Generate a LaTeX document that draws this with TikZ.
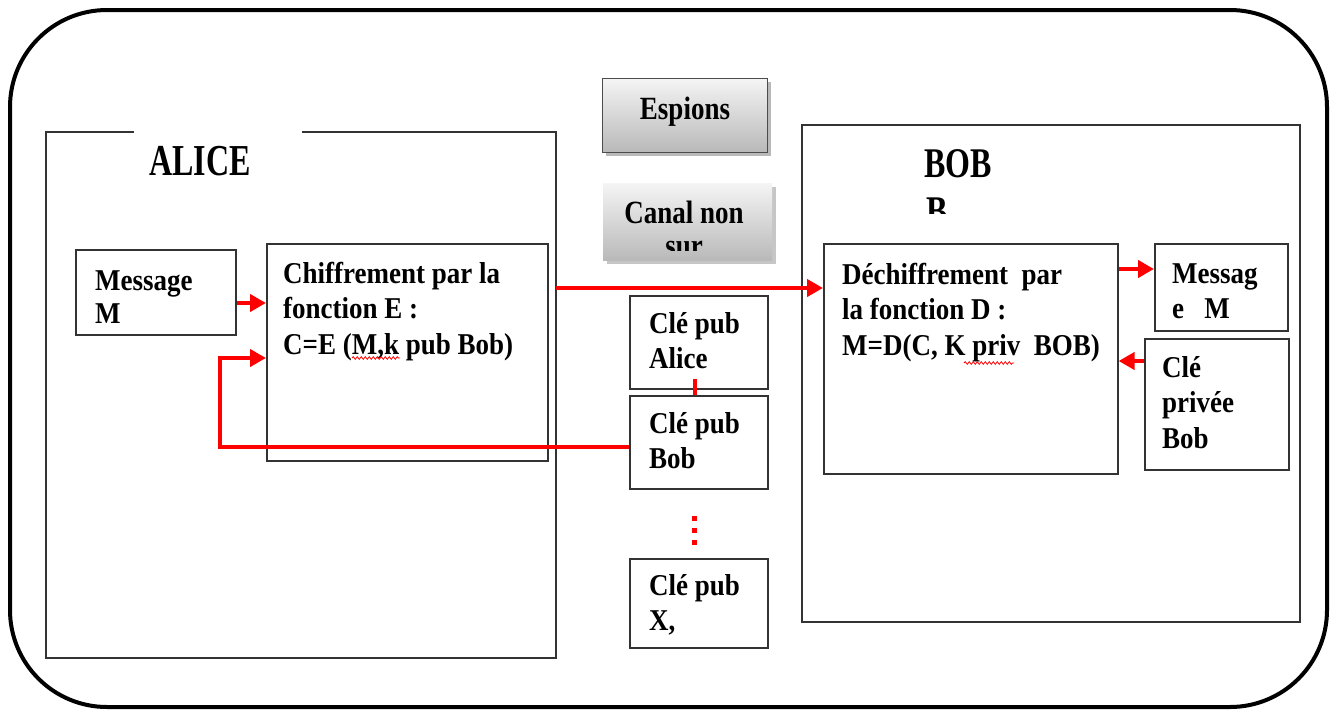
\documentclass[tikz,border=0pt]{standalone}
\usepackage{fontspec}
\setmainfont{Liberation Serif}
\usepackage{graphicx}
\usetikzlibrary{arrows.meta,decorations.pathmorphing}
\newcommand{\tb}[2][1.12]{\scalebox{1}[#1]{\begin{tabular}[t]{@{}l@{}}#2\end{tabular}}}
\definecolor{boxline}{HTML}{333333}
\begin{document}
\begin{tikzpicture}[x=1pt,y=-1pt,
  box/.style={draw=boxline, line width=1.6pt, inner sep=0pt, anchor=north west},
  txt/.style={inner sep=0pt, anchor=base west, font=\fontsize{27}{32}\selectfont\bfseries},
  ctxt/.style={inner sep=0pt, anchor=base, font=\fontsize{27}{32}\selectfont\bfseries},
  big/.style={inner sep=0pt, anchor=base west, font=\fontsize{32}{38}\selectfont\bfseries},
  redarr/.style={red, line width=4pt, -{Triangle[length=16pt,width=17pt]}},
  redline/.style={red, line width=4pt},
  squig/.style={red, line width=0.8pt, decorate, decoration={snake, amplitude=1.3pt, segment length=4pt}},
  gbox/.style={top color=gray!8, bottom color=gray!55}
]
\useasboundingbox (0,0) rectangle (1334,713);

% outer frame
\draw[line width=4pt, rounded corners=97pt] (10,10) rectangle (1327,707);

% ALICE frame with gap in top border
\draw[boxline, line width=1.6pt] (134,132) -| (46,658) -| (556,132) -- (302,132);
\node[big] (alicet) at (149,175) {\scalebox{1}[1.38]{ALICE}};
\coordinate (aliceR) at (556,288);

% Alice's boxes
\node[box, minimum width=160pt, minimum height=85pt] (msgA) at (75,249) {};
\node[txt, font=\fontsize{27}{29.5}\selectfont\bfseries] (msgAt) at (95,290) {\tb{Message\\M}};
\node[box, minimum width=281pt, minimum height=217pt] (chif) at (266,243) {};
\node[txt] (chift) at (283,283) {\tb{Chiffrement par la\\fonction E :\\C=E (M,k pub Bob)}};
\draw[squig] (352,358) -- (400,358);

% Espions and canal
\fill[gray!55] (606,82) rectangle (771,156);
\shade[gbox] (602,78) rectangle (767,152);
\node[box, draw=gray!60!black, line width=1.3pt, minimum width=165pt, minimum height=74pt] (esp) at (602,78) {};
\node[ctxt] (espt) at (685,119) {\scalebox{1}[1.2]{Espions}};

\fill[gray!45] (607,187) rectangle (776,264);
\shade[gbox] (603,183) rectangle (772,260);
\node[inner sep=0pt, anchor=north west, minimum width=169pt, minimum height=77pt] (canal) at (603,183) {};
\begin{scope}
  \clip (603,183) rectangle (772,250);
  \node[ctxt, font=\fontsize{27}{27.5}\selectfont\bfseries] (canalt) at (684,223)
    {\scalebox{1}[1.2]{\begin{tabular}[t]{@{}c@{}}Canal non\\sur\end{tabular}}};
\end{scope}

% public keys
\node[box, minimum width=138pt, minimum height=93pt] (kalice) at (629,295) {};
\node[txt] (kalicet) at (649,333) {\tb{Clé pub\\Alice}};
\node[box, minimum width=138pt, minimum height=93pt] (kbob) at (629,395) {};
\node[txt] (kbobt) at (649,433) {\tb{Clé pub\\Bob}};
\node[box, minimum width=138pt, minimum height=89pt] (kx) at (629,558) {};
\node[txt] (kxt) at (649,595) {\tb{Clé pub\\X,}};
\draw[redline] ([xshift=-4pt,yshift=11pt]kalice.south) -- ([xshift=-4pt]kbob.north);
\foreach \yy in {518,530,542} \fill[red] (692,\yy-2.5) rectangle (697,\yy+2.5);

% BOB frame
\node[box, minimum width=498pt, minimum height=497pt] (bob) at (801,124) {};
\node[big] (bobt) at (924,177) {\scalebox{1}[1.32]{BOB}};
\begin{scope}
  \clip (900,190) rectangle (1000,213);
  \node[big] (bobt2) at (926,225) {\scalebox{1}[1.32]{B}};
\end{scope}

\node[box, minimum width=294pt, minimum height=230pt] (dech) at (823,243) {};
\node[txt] (decht) at (842,284) {\tb{Déchiffrement\ \ par\\la fonction D :\\M=D(C, K priv\ \ BOB)}};
\draw[squig] (964,363) -- (1014,363);
\node[box, minimum width=133pt, minimum height=87pt] (msgB) at (1154,243) {};
\node[txt] (msgBt) at (1172,283) {\tb{Messag\\e\ \ \ M}};
\node[box, minimum width=144pt, minimum height=131pt] (kpriv) at (1144,338) {};
\node[txt] (kprivt) at (1162,377) {\tb{Clé\\privée\\Bob}};

% connectors
\coordinate (m0) at (msgA.east |- 0,303);
\draw[redarr] (m0) -- (chif.west |- m0);
\coordinate (fb) at (220,358);
\draw[redarr] ([yshift=-5pt]kbob.west) -| (fb) -- (chif.west |- fb);
\coordinate (m1) at (dech.west |- aliceR);
\draw[redarr] (aliceR) -- (m1);
\coordinate (m2) at (dech.east |- 0,269);
\draw[redarr] (m2) -- (msgB.west |- m2);
\coordinate (m3) at (kpriv.west |- 0,361);
\draw[redarr] (m3) -- (dech.east |- m3);
\end{tikzpicture}
\end{document}
